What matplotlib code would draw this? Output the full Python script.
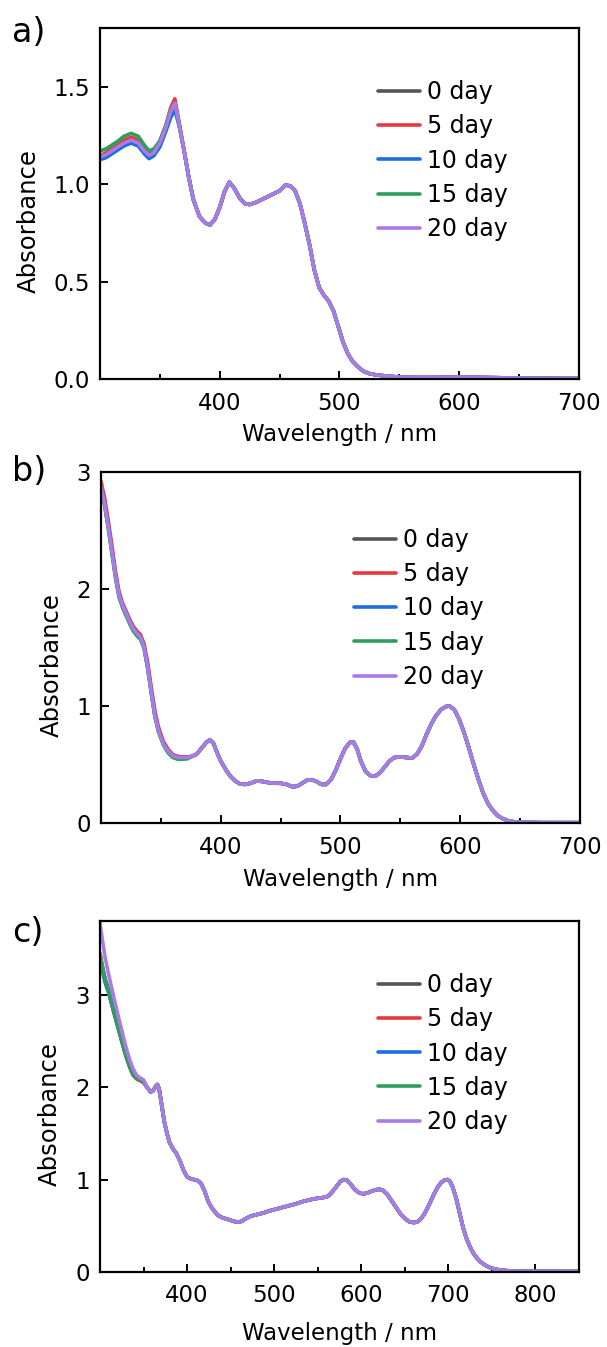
import matplotlib
matplotlib.use('Agg')
import matplotlib.pyplot as plt
from matplotlib.ticker import MultipleLocator, FormatStrFormatter

plt.rcParams['font.family'] = ['DejaVu Sans']

labels = ['0 day', '5 day', '10 day', '15 day', '20 day']
colors = ['#555555', '#e8393e', '#1e6ee0', '#2f9d5d', '#a97be6']

#__________________________________________________________
# panel a : short wavelength part differs between days
a_head_wl = [300, 305, 310, 315, 320, 326, 332, 337, 341, 345, 350, 355, 359, 362.5, 366]
a_head_0  = [1.14, 1.155, 1.175, 1.195, 1.215, 1.23, 1.215, 1.175, 1.15, 1.165, 1.215, 1.29, 1.37, 1.405, 1.31]
a_head_5  = [1.145, 1.16, 1.18, 1.20, 1.225, 1.24, 1.225, 1.18, 1.155, 1.17, 1.22, 1.30, 1.39, 1.437, 1.32]
a_head_10 = [1.125, 1.135, 1.155, 1.175, 1.195, 1.21, 1.195, 1.155, 1.13, 1.145, 1.19, 1.27, 1.34, 1.38, 1.30]
a_head_15 = [1.17, 1.18, 1.20, 1.22, 1.245, 1.26, 1.245, 1.20, 1.17, 1.18, 1.22, 1.30, 1.38, 1.41, 1.31]
a_head_20 = [1.14, 1.15, 1.17, 1.19, 1.21, 1.225, 1.21, 1.17, 1.146, 1.16, 1.21, 1.29, 1.37, 1.415, 1.31]
# common part
a_tail_wl = [370, 374, 378, 383, 388, 392, 396, 400, 404, 408, 412, 417, 421, 425, 430, 435, 440,
             445, 450, 455, 459, 463, 467, 471, 475, 479, 483, 487, 491, 495, 499, 503, 507, 511,
             515, 520, 525, 530, 540, 550, 560, 580, 600, 620, 650, 680, 700]
a_tail = [1.18, 1.04, 0.92, 0.835, 0.80, 0.79, 0.82, 0.88, 0.96, 1.01, 0.98, 0.925, 0.90, 0.895,
          0.905, 0.92, 0.935, 0.95, 0.965, 0.995, 0.99, 0.965, 0.90, 0.80, 0.69, 0.56, 0.47, 0.43,
          0.40, 0.35, 0.27, 0.19, 0.13, 0.09, 0.065, 0.04, 0.028, 0.022, 0.015, 0.01, 0.008, 0.008,
          0.01, 0.008, 0.005, 0.003, 0.003]

#__________________________________________________________
# panel b
b_head_wl = [300, 303, 306, 309, 312, 315, 318, 321, 324, 327, 330, 333, 336, 339, 342, 345, 348,
             352, 356, 360, 364, 368, 372]
b_head_base = [2.87, 2.73, 2.54, 2.33, 2.12, 1.95, 1.86, 1.79, 1.72, 1.66, 1.62, 1.59, 1.50, 1.33,
               1.12, 0.92, 0.79, 0.68, 0.615, 0.575, 0.56, 0.56, 0.56]
b_head_5 = [2.92, 2.78, 2.59, 2.38, 2.16, 1.98, 1.88, 1.81, 1.74, 1.68, 1.64, 1.61, 1.53, 1.37,
            1.16, 0.96, 0.82, 0.70, 0.63, 0.585, 0.57, 0.565, 0.565]
b_head_15 = [2.85, 2.71, 2.52, 2.31, 2.10, 1.93, 1.84, 1.77, 1.70, 1.64, 1.60, 1.57, 1.49, 1.32,
             1.11, 0.91, 0.78, 0.67, 0.60, 0.56, 0.545, 0.545, 0.548]
b_tail_wl = [376, 380, 384, 388, 391, 394, 397, 400, 404, 408, 412, 416, 420, 425, 430, 435, 440,
             445, 450, 455, 460, 464, 468, 472, 476, 480, 484, 488, 492, 496, 500, 504, 508, 511,
             514, 517, 521, 525, 529, 533, 537, 541, 545, 550, 555, 560, 564, 568, 572, 576, 580,
             584, 588, 591, 595, 599, 603, 607, 611, 615, 619, 623, 627, 631, 635, 640, 645, 650,
             670, 700]
b_tail = [0.57, 0.59, 0.64, 0.69, 0.71, 0.68, 0.60, 0.53, 0.46, 0.40, 0.36, 0.335, 0.33, 0.34,
          0.36, 0.355, 0.345, 0.34, 0.34, 0.33, 0.31, 0.315, 0.34, 0.365, 0.37, 0.355, 0.33, 0.33,
          0.37, 0.45, 0.55, 0.64, 0.69, 0.69, 0.63, 0.53, 0.44, 0.405, 0.40, 0.43, 0.48, 0.53, 0.56,
          0.565, 0.56, 0.555, 0.59, 0.66, 0.76, 0.85, 0.92, 0.97, 0.995, 1.0, 0.97, 0.89, 0.78, 0.65,
          0.51, 0.38, 0.26, 0.17, 0.11, 0.065, 0.04, 0.02, 0.01, 0.005, 0.003, 0.003]

#__________________________________________________________
# panel c
c_head_wl = [300, 303, 306, 310, 314, 318, 322, 326, 330, 334, 338, 342, 346, 350]
c_head_0  = [3.45, 3.30, 3.17, 3.05, 2.90, 2.76, 2.62, 2.48, 2.35, 2.23, 2.14, 2.10, 2.08, 2.06]
c_head_5  = [3.42, 3.28, 3.15, 3.03, 2.88, 2.74, 2.60, 2.46, 2.33, 2.22, 2.13, 2.09, 2.07, 2.05]
c_head_10 = [3.38, 3.25, 3.13, 3.02, 2.88, 2.74, 2.61, 2.47, 2.34, 2.23, 2.14, 2.10, 2.08, 2.06]
c_head_15 = [3.44, 3.29, 3.16, 3.04, 2.89, 2.75, 2.61, 2.47, 2.34, 2.23, 2.14, 2.10, 2.08, 2.06]
c_head_20 = [3.78, 3.58, 3.40, 3.22, 3.05, 2.89, 2.73, 2.58, 2.43, 2.30, 2.20, 2.13, 2.10, 2.08]
c_tail_wl = [354, 358, 361, 364, 366, 368, 371, 374, 377, 380, 384, 388, 392, 396, 400, 404, 408,
             412, 416, 420, 424, 428, 432, 436, 440, 445, 450, 455, 459, 463, 467, 472, 477, 482,
             488, 494, 500, 508, 516, 524, 532, 540, 548, 556, 562, 567, 572, 576, 580, 584, 588,
             592, 597, 602, 607, 612, 617, 621, 625, 630, 635, 640, 645, 650, 655, 660, 664, 668,
             672, 676, 680, 684, 688, 692, 696, 699, 702, 705, 709, 713, 717, 721, 725, 729, 733,
             737, 742, 747, 752, 760, 770, 780, 800, 830, 850]
c_tail = [2.00, 1.95, 1.96, 2.01, 2.03, 1.98, 1.80, 1.62, 1.50, 1.40, 1.33, 1.28, 1.20, 1.10, 1.03,
          1.01, 1.00, 0.99, 0.96, 0.88, 0.77, 0.70, 0.65, 0.61, 0.59, 0.575, 0.56, 0.545, 0.54,
          0.55, 0.575, 0.60, 0.615, 0.625, 0.64, 0.66, 0.675, 0.695, 0.715, 0.735, 0.76, 0.78,
          0.795, 0.805, 0.82, 0.87, 0.93, 0.98, 1.0, 0.99, 0.95, 0.90, 0.86, 0.845, 0.855, 0.875,
          0.89, 0.895, 0.885, 0.84, 0.77, 0.70, 0.63, 0.58, 0.545, 0.535, 0.54, 0.57, 0.62, 0.69,
          0.77, 0.85, 0.92, 0.97, 0.995, 1.0, 0.98, 0.92, 0.80, 0.64, 0.48, 0.36, 0.27, 0.20, 0.15,
          0.11, 0.075, 0.05, 0.035, 0.02, 0.012, 0.008, 0.006, 0.005, 0.005]


#__________________________________________________________
def panel(ax, head_wl, heads, tail_wl, tail, xlim, ylim, xmajor, ymajor, yfmt, leg_pos,
          ylab_x, xlab_y):
    for h, c, l in zip(heads, colors, labels):
        ax.plot(head_wl + tail_wl, h + tail, color=c, lw=2.6, label=l,
                solid_joinstyle='round', solid_capstyle='round')
    ax.set_xlim(xlim)
    ax.set_ylim(ylim)
    ax.set_xticks(xmajor)
    ax.xaxis.set_minor_locator(MultipleLocator(50))
    ax.set_yticks(ymajor)
    ax.yaxis.set_major_formatter(FormatStrFormatter(yfmt))
    ax.tick_params(which='both', direction='in', top=False, right=False, width=1.4,
                   labelsize=16.5)
    ax.tick_params(axis='x', which='major', length=6, pad=9)
    ax.tick_params(axis='x', which='minor', length=3.5)
    ax.tick_params(axis='y', which='major', length=5.5, pad=7)
    for s in ax.spines.values():
        s.set_linewidth(1.6)
    ax.set_xlabel('Wavelength / nm', fontsize=16.5, va='top')
    ax.set_ylabel('Absorbance', fontsize=17.5)
    ax.xaxis.set_label_coords(0.5, xlab_y)
    ax.yaxis.set_label_coords(ylab_x, 0.45)
    ax.legend(loc='upper left', bbox_to_anchor=leg_pos, frameon=False, fontsize=17,
              handlelength=1.8, handletextpad=0.3, labelspacing=0.43, borderpad=0,
              borderaxespad=0)


fig = plt.figure(figsize=(6.07, 13.47), dpi=100)
ax1 = fig.add_axes([0.1647, 0.7186, 0.789, 0.2606])
ax2 = fig.add_axes([0.1664, 0.3890, 0.789, 0.2606])
ax3 = fig.add_axes([0.1647, 0.0557, 0.789, 0.2606])

panel(ax1, a_head_wl, [a_head_0, a_head_5, a_head_10, a_head_15, a_head_20], a_tail_wl, a_tail,
      (300, 700), (0, 1.8), [400, 500, 600, 700], [0.0, 0.5, 1.0, 1.5], '%.1f',
      (0.580, 0.851), -0.124, -0.125)
panel(ax2, b_head_wl, [b_head_base, b_head_5, b_head_base, b_head_15, b_head_base], b_tail_wl,
      b_tail, (300, 700), (0, 3), [400, 500, 600, 700], [0, 1, 2, 3], '%d',
      (0.528, 0.840), -0.077, -0.128)
panel(ax3, c_head_wl, [c_head_0, c_head_5, c_head_10, c_head_15, c_head_20], c_tail_wl, c_tail,
      (300, 850), (0, 3.8), [400, 500, 600, 700, 800], [0, 1, 2, 3], '%d',
      (0.580, 0.851), -0.079, -0.142)

fig.text(12 / 607, 1 - 16 / 1347, 'a)', fontsize=24, va='top', ha='left')
fig.text(12 / 607, 1 - 455 / 1347, 'b)', fontsize=24, va='top', ha='left')
fig.text(12 / 607, 1 - 916 / 1347, 'c)', fontsize=24, va='top', ha='left')

plt.savefig('out.png', dpi=100)
plt.close()
